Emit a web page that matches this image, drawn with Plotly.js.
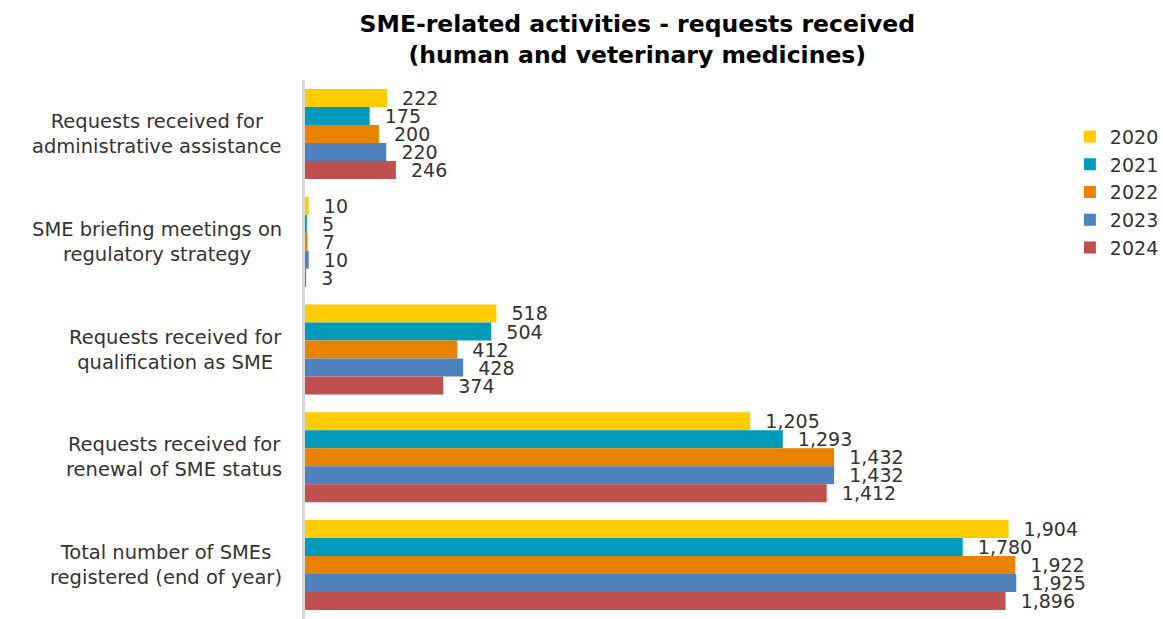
<!DOCTYPE html>
<html>
<head>
<meta charset="utf-8">
<script src="https://cdn.plot.ly/plotly-3.0.1.min.js"></script>
<style>html,body{margin:0;padding:0;background:#fff;overflow:hidden}</style>
</head>
<body>
<div id="chart" style="width:1163px;height:619px"></div>
<script>
const categories = [
  "Requests received for<br>administrative assistance",
  "SME briefing meetings on<br>regulatory strategy",
  "Requests received for<br>qualification as SME",
  "Requests received for<br>renewal of SME status",
  "Total number of SMEs<br>registered (end of year)"
];
const years = ["2020", "2021", "2022", "2023", "2024"];
const values2020 = [222, 10, 518, 1205, 1904];
const values2021 = [175, 5, 504, 1293, 1780];
const values2022 = [200, 7, 412, 1432, 1922];
const values2023 = [220, 10, 428, 1432, 1925];
const values2024 = [246, 3, 374, 1412, 1896];
const seriesValues = [values2020, values2021, values2022, values2023, values2024];
const colors = ["#FFCC00", "#009BBB", "#E88200", "#4F81BD", "#C0504D"];

const FONT = "DejaVu Sans, Verdana, sans-serif";
const traces = years.map((yr, i) => ({
  type: "bar",
  orientation: "h",
  name: yr,
  y: categories,
  x: seriesValues[i],
  marker: {color: colors[i]},
  text: seriesValues[i].map(v => "\u00a0\u00a0" + v.toLocaleString("en-US")),
  textposition: "outside",
  constraintext: "none",
  textfont: {family: FONT, size: 19, color: "#333333"},
  cliponaxis: false,
  hoverinfo: "x+name"
}));

const annotations = categories.map(c => ({
  xref: "paper", yref: "y", x: -0.028, y: c,
  xanchor: "right", yanchor: "middle", align: "center",
  text: c, showarrow: false,
  font: {family: FONT, size: 19.5, color: "#333333"}
}));

const layout = {
  width: 1163, height: 619,
  margin: {l: 305, r: 119, t: 80, b: 0, autoexpand: false},
  paper_bgcolor: "#ffffff", plot_bgcolor: "#ffffff",
  barmode: "group", bargap: 0.165, bargroupgap: 0,
  title: {
    text: "<b>SME-related activities - requests received<br>(human and veterinary medicines)</b>",
    font: {family: FONT, size: 23.5, color: "#000000"},
    xref: "container", x: 0.548, xanchor: "center",
    yref: "container", y: 0.948, yanchor: "top"
  },
  xaxis: {range: [0, 2000], showticklabels: false, showgrid: false, zeroline: false, showline: false, fixedrange: true},
  yaxis: {autorange: "reversed", showticklabels: false, showgrid: false, zeroline: false,
          showline: true, linecolor: "#d9d9d9", linewidth: 3, ticks: ""},
  legend: {
    x: 1.035, xanchor: "left", y: 0.93, yanchor: "top",
    font: {family: FONT, size: 19, color: "#333333"},
    traceorder: "normal", itemwidth: 30
  },
  annotations: annotations,
  showlegend: true
};

Plotly.newPlot("chart", traces, layout, {displayModeBar: false, staticPlot: true});
</script>
</body>
</html>
